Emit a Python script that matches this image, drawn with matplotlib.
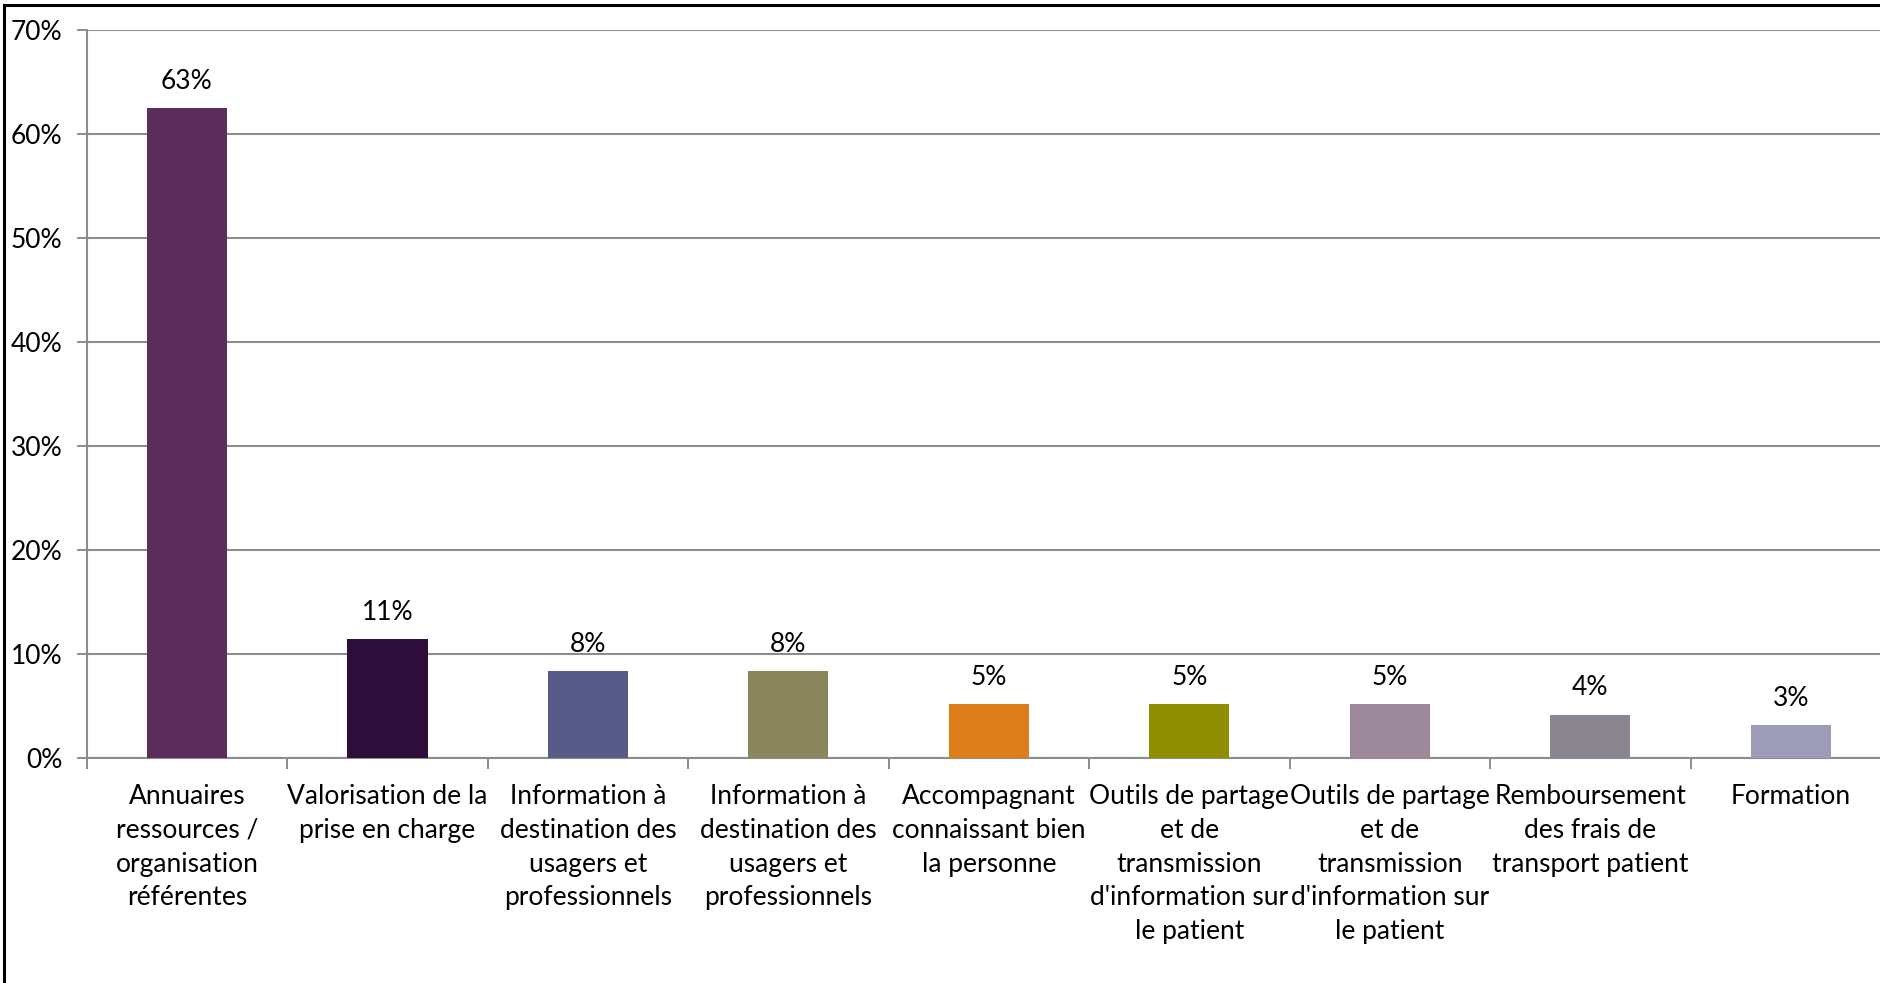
import matplotlib
matplotlib.use("Agg")
import matplotlib.pyplot as plt
from matplotlib.lines import Line2D
from matplotlib.ticker import FixedLocator, FuncFormatter

categories = [
    "Annuaires\nressources /\norganisation\nréférentes",
    "Valorisation de la\nprise en charge",
    "Information à\ndestination des\nusagers et\nprofessionnels",
    "Information à\ndestination des\nusagers et\nprofessionnels",
    "Accompagnant\nconnaissant bien\nla personne",
    "Outils de partage\net de\ntransmission\nd'information sur\nle patient",
    "Outils de partage\net de\ntransmission\nd'information sur\nle patient",
    "Remboursement\ndes frais de\ntransport patient",
    "Formation",
]
values = [0.625, 0.1146, 0.0833, 0.0833, 0.0521, 0.0521, 0.0521, 0.0417, 0.0313]
value_labels = ["63%", "11%", "8%", "8%", "5%", "5%", "5%", "4%", "3%"]
colors = ["#5B2D5A", "#2E0E3A", "#585A88", "#88865A", "#DC7E1A",
          "#8F8E00", "#9C899C", "#8B8590", "#9C9CB8"]
yticks = [0, 0.1, 0.2, 0.3, 0.4, 0.5, 0.6, 0.7]

plt.rcParams['font.family'] = ['Lato', 'DejaVu Sans']
FS = 19

W, H = 1881, 983
fig = plt.figure(figsize=(W / 100, H / 100), dpi=100)
x0, x1 = 86.75, 1891
ytop, ybot = 30, 758
ax = fig.add_axes([x0 / W, (H - ybot) / H, (x1 - x0) / W, (ybot - ytop) / H])

grid_c = "#8C8C8C"
xs = list(range(len(values)))
ax.bar(xs, values, width=0.4, color=colors, zorder=3)
for x, v, lab in zip(xs, values, value_labels):
    ax.annotate(lab, (x, v), xytext=(0, 10.3), textcoords="offset points",
                ha="center", va="bottom", fontsize=FS, color="black")

ax.set_xlim(-0.5, len(values) - 0.5)
ax.set_ylim(0, 0.7)
ax.yaxis.set_major_locator(FixedLocator(yticks))
ax.yaxis.set_major_formatter(FuncFormatter(lambda v, p: f"{v*100:.0f}%"))
ax.yaxis.grid(True, color=grid_c, linewidth=1.5, zorder=0)
ax.set_axisbelow(True)

ax.set_xticks([i - 0.5 for i in range(len(values) + 1)])
ax.set_xticklabels([])
ax.set_xticks(xs, minor=True)
ax.set_xticklabels(categories, minor=True, fontsize=FS, linespacing=1.43, va="top")
ax.tick_params(axis="x", which="minor", length=0, pad=19)
ax.tick_params(axis="x", which="major", length=8, width=1.4, color=grid_c)
ax.tick_params(axis="y", length=7, width=1.4, color=grid_c, labelsize=FS, pad=10.5)

for s in ["top", "right"]:
    ax.spines[s].set_visible(False)
for s in ["left", "bottom"]:
    ax.spines[s].set_color(grid_c)
    ax.spines[s].set_linewidth(1.5)

# outer chart frame (left and top edges visible)
fig.add_artist(Line2D([4 / W, 4 / W], [0, 1 - 5 / H], color="black", linewidth=2.2,
                      transform=fig.transFigure))
fig.add_artist(Line2D([4 / W, 1], [1 - 5 / H, 1 - 5 / H], color="black", linewidth=2.2,
                      transform=fig.transFigure))

fig.savefig("out.png", dpi=100)
